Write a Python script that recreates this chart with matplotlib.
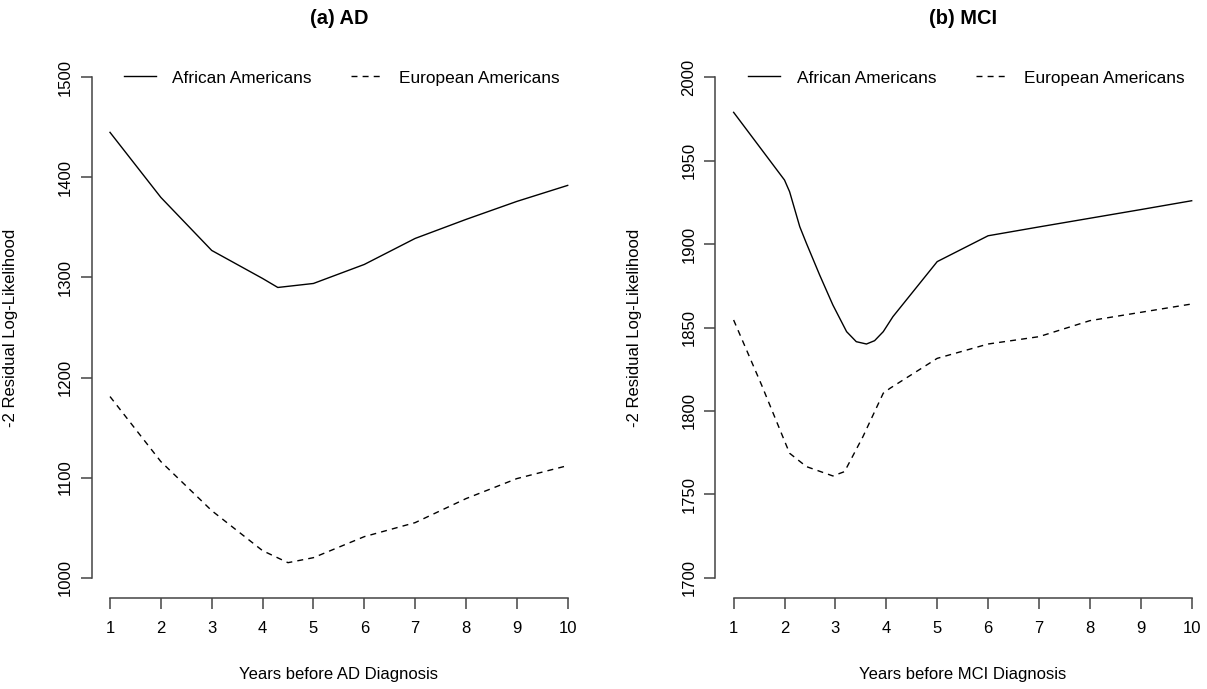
import matplotlib
matplotlib.use("Agg")
import matplotlib.pyplot as plt

plt.rcParams['font.family'] = ['Liberation Sans', 'DejaVu Sans']

# ---- Data ----
years_ticks = [1, 2, 3, 4, 5, 6, 7, 8, 9, 10]

# (a) AD
ad_aa_x = [1, 2, 3, 4, 4.3, 5, 6, 7, 8, 9, 10]
ad_aa_y = [1445, 1380, 1327, 1299, 1290, 1294, 1313, 1339, 1358, 1376, 1392]
ad_ea_x = [1, 2, 3, 4, 4.5, 5, 6, 7, 8, 9, 10]
ad_ea_y = [1181, 1116, 1067, 1027, 1015, 1020, 1041, 1055, 1079, 1099, 1112]
ad_yticks = [1000, 1100, 1200, 1300, 1400, 1500]

# (b) MCI
mci_aa_x = [1, 2, 2.1, 2.3, 2.43, 2.69, 2.95, 3.22, 3.41, 3.61, 3.77, 3.94, 4.13, 5, 6, 7, 8, 9, 10]
mci_aa_y = [1979, 1938.4, 1931.4, 1910.4, 1900.5, 1881.5, 1863.5, 1847.5, 1841.5, 1840.1,
            1842.1, 1847.5, 1856.5, 1889.5, 1905.0, 1910.3, 1915.5, 1920.7, 1926.0]
mci_ea_x = [1, 1.55, 2, 2.1, 2.43, 2.95, 3.18, 3.54, 3.94, 4.07, 5, 6, 7, 8, 9, 10]
mci_ea_y = [1854.5, 1815.5, 1782, 1774.6, 1766.6, 1761.0, 1763.6, 1784.5, 1810.6, 1813.5,
            1831.5, 1840.1, 1844.5, 1854.1, 1859.1, 1864.1]
mci_yticks = [1700, 1750, 1800, 1850, 1900, 1950, 2000]

series_labels = ["African Americans", "European Americans"]
titles = ["(a) AD", "(b) MCI"]
xlabels = ["Years before AD Diagnosis", "Years before MCI Diagnosis"]
ylabel = "-2 Residual Log-Likelihood"

W, H = 1207, 689
fig = plt.figure(figsize=(W / 100, H / 100), dpi=100)

FS = 12
LFS = 12.4
TFS = 14.4
axcol = '#444444'
dash = (4.3, 3.7)

panels = [
    dict(rect=[91.7 / W, 1 - 597.7 / H, 494.3 / W, 540.4 / H],
         aa=(ad_aa_x, ad_aa_y), ea=(ad_ea_x, ad_ea_y), yt=ad_yticks, leg_x=0.065),
    dict(rect=[715.3 / W, 1 - 597.7 / H, 494.7 / W, 540.4 / H],
         aa=(mci_aa_x, mci_aa_y), ea=(mci_ea_x, mci_ea_y), yt=mci_yticks, leg_x=0.0667),
]

for i, p in enumerate(panels):
    ax = fig.add_axes(p['rect'])
    ax.plot(p['aa'][0], p['aa'][1], color='black', lw=1.0, solid_joinstyle='round',
            label=series_labels[0])
    ax.plot(p['ea'][0], p['ea'][1], color='black', lw=1.0, dashes=dash,
            label=series_labels[1])
    yt = p['yt']
    yr = yt[-1] - yt[0]
    ax.set_xlim(1 - 0.36, 10 + 0.36)
    ax.set_ylim(yt[0] - 0.04 * yr, yt[-1] + 0.04 * yr)
    ax.set_xticks(years_ticks)
    ax.set_yticks(yt)
    ax.set_xticklabels([str(v) for v in years_ticks])
    ax.set_yticklabels([str(v) for v in yt], rotation=90, va='center')
    for s in ['top', 'right']:
        ax.spines[s].set_visible(False)
    ax.spines['left'].set_bounds(yt[0], yt[-1])
    ax.spines['bottom'].set_bounds(1, 10)
    for s in ['left', 'bottom']:
        ax.spines[s].set_color(axcol)
        ax.spines[s].set_linewidth(1.1)
    ax.tick_params(axis='both', length=7.7, width=1.1, color=axcol, labelsize=FS)
    ax.tick_params(axis='y', pad=6.0)
    ax.tick_params(axis='x', pad=9.0)
    ax.set_xlabel(xlabels[i], fontsize=FS)
    ax.xaxis.set_label_coords(0.5, -0.128)
    ax.set_ylabel(ylabel, fontsize=FS)
    ax.yaxis.set_label_coords(-0.149, 0.5)
    ax.text(0.5, 1.0727, titles[i], transform=ax.transAxes, ha='center', va='center',
            fontsize=TFS, fontweight='bold')
    ax.legend(loc='center left', bbox_to_anchor=(p['leg_x'], 0.9617), ncol=2,
              frameon=False, fontsize=LFS, handlelength=1.85, handletextpad=0.95,
              columnspacing=2.3, borderpad=0, borderaxespad=0)

fig.savefig('out.png', dpi=100)
